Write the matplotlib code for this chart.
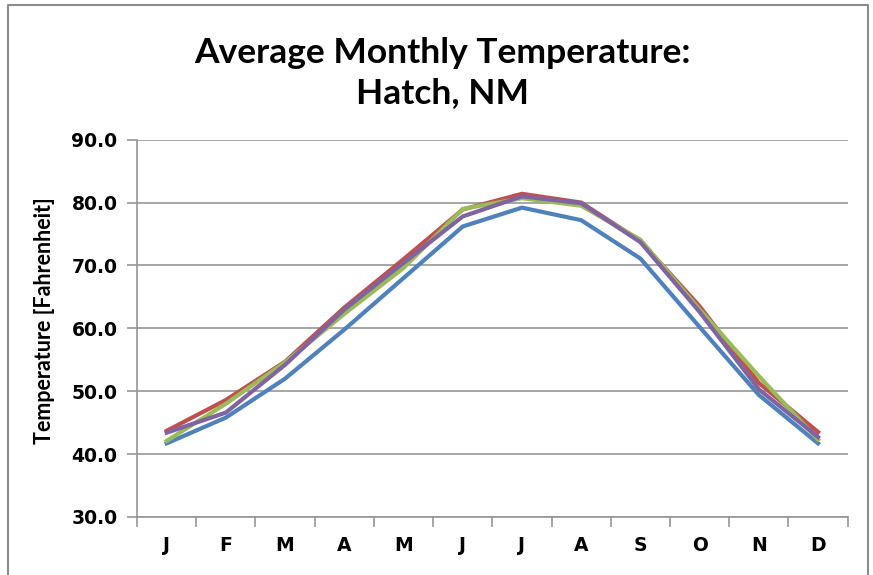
import matplotlib
matplotlib.use("Agg")
import matplotlib.pyplot as plt
import numpy as np

months = ["J", "F", "M", "A", "M", "J", "J", "A", "S", "O", "N", "D"]

# four series (deg F)
blue = [41.7, 45.8, 52.0, 59.8, 68.0, 76.2, 79.2, 77.2, 71.1, 60.2, 49.4, 41.7]
red = [43.7, 48.6, 54.7, 63.3, 71.0, 78.9, 81.4, 80.0, 73.9, 63.5, 51.3, 43.5]
green = [42.1, 48.0, 54.6, 62.3, 69.6, 79.0, 80.7, 79.5, 74.1, 63.0, 52.4, 42.3]
purple = [43.4, 46.6, 54.2, 63.0, 70.4, 77.8, 81.0, 79.9, 73.7, 62.6, 50.3, 42.7]

colors = ["#4F81BD", "#C0504D", "#9BBB59", "#8064A2"]

fig = plt.figure(figsize=(8.73, 5.75), dpi=100)
ax = fig.add_axes([0.157, 0.101, 0.814, 0.656])

x = np.arange(len(months))
for ys, c in zip([blue, red, green, purple], colors):
    ax.plot(x, ys, color=c, lw=3.0, solid_joinstyle="miter")

ax.set_xlim(-0.5, len(months) - 0.5)
ax.set_ylim(30, 90)
ax.set_yticks(np.arange(30, 91, 10))
ax.set_yticklabels(["%.1f" % v for v in np.arange(30, 91, 10)],
                   fontsize=13.5, fontweight="bold")
ax.yaxis.grid(True, color="#969696", lw=1.2)
ax.set_axisbelow(True)

# category ticks sit between months, labels centred
ax.set_xticks(np.arange(-0.5, len(months), 1.0))
ax.set_xticklabels([])
ax.set_xticks(x, minor=True)
ax.set_xticklabels(months, minor=True, fontsize=13.5, fontweight="bold")
ax.tick_params(axis="x", which="minor", length=0, pad=14)
ax.tick_params(axis="x", which="major", length=7, color="#969696", width=1.2)
ax.tick_params(axis="y", length=7, color="#969696", width=1.2, pad=7)

for s in ["top", "right"]:
    ax.spines[s].set_visible(False)
for s in ["left", "bottom"]:
    ax.spines[s].set_color("#969696")
    ax.spines[s].set_linewidth(1.2)

ax.set_ylabel("Temperature [Fahrenheit]", fontsize=15.5, fontweight="bold",
              family=["Lato", "DejaVu Sans"])
ax.yaxis.set_label_coords(-0.116, 0.52)

fig.text(0.507, 0.873, "Average Monthly Temperature:\nHatch, NM",
         ha="center", va="center", fontsize=25.5, fontweight="bold",
         family=["Lato", "DejaVu Sans"], linespacing=1.32)

# outer chart frame (left, top, right edges)
fig.add_artist(plt.Line2D([8 / 873, 8 / 873, 868 / 873, 868 / 873],
                          [0, 1 - 5 / 575, 1 - 5 / 575, 0],
                          transform=fig.transFigure, color="#8c8c8c", lw=1.5))

fig.savefig("out.png", dpi=100)
